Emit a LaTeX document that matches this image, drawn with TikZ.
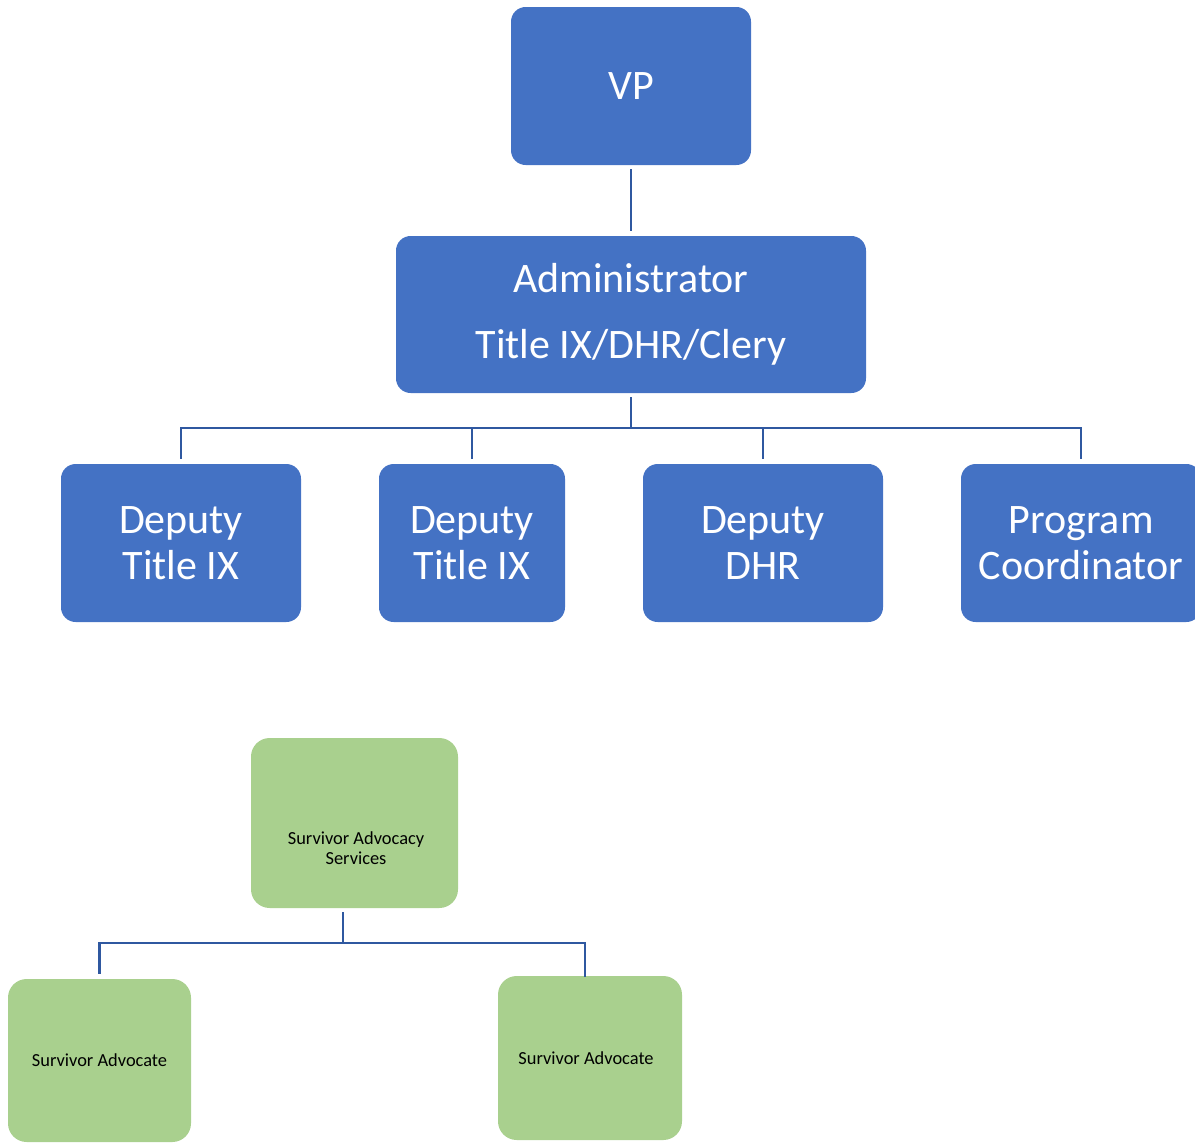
\documentclass[tikz,border=0pt]{standalone}
\usepackage{fontspec}
\setmainfont{Carlito}
\definecolor{boxblue}{RGB}{68,114,196}
\definecolor{boxgreen}{RGB}{169,208,142}
\definecolor{wireblue}{RGB}{47,88,160}
\tikzset{
  bluebox/.style={fill=boxblue, rounded corners=11pt, text=white, align=center,
    inner sep=0pt, font=\fontsize{31.5}{34.5}\selectfont},
  greenbox/.style={fill=boxgreen, rounded corners=14pt, text=black, align=center,
    inner sep=0pt, font=\fontsize{13.8}{15}\selectfont},
  wire/.style={draw=wireblue, line width=2.1pt, shorten >=3.5pt, shorten <=3pt}
}
\begin{document}
\begin{tikzpicture}[x=0.75pt, y=-0.75pt]
      \useasboundingbox (0,0) rectangle (1195,1142);
      \node[bluebox, minimum width=180pt, minimum height=118.5pt] (vp) at (631,86) {VP};
      \node[bluebox, minimum width=352.5pt, minimum height=117.75pt] (admin) at (631,314.5)
        {Administrator\\[15pt]Title IX/DHR/Clery};
      \node[bluebox, minimum width=180pt, minimum height=118.5pt] (dep1) at (181,543) {Deputy\\Title IX};
      \node[bluebox, minimum width=139.5pt, minimum height=118.5pt] (dep2) at (472,543) {Deputy\\Title IX};
      \node[bluebox, minimum width=180pt, minimum height=118.5pt] (dep3) at (763,543) {Deputy\\DHR};
      \node[bluebox, minimum width=180pt, minimum height=118.5pt] (prog) at (1081,543) {Program\\Coordinator};
      \coordinate (bus) at (631,428);
      \begin{scope}[wire]
        \draw (vp) -- (admin);
        \draw[shorten >=0pt] (admin) -- (bus);
        \draw[shorten <=0pt] (bus) -| (dep1);
        \draw[shorten <=0pt] (bus) -| (dep2);
        \draw[shorten <=0pt] (bus) -| (dep3);
        \draw[shorten <=0pt] (bus) -| (prog);
      \end{scope}
      \node[greenbox, minimum width=155.25pt, minimum height=127.5pt] (sas) at (354.5,823) {};
      \node[greenbox, fill=none] (sastext) at (356,848) {Survivor Advocacy\\Services};
      \node[greenbox, minimum width=137.25pt, minimum height=122.25pt] (adv1) at (99.5,1060.5) {Survivor Advocate};
      \node[greenbox, minimum width=138pt, minimum height=123pt] (adv2) at (590,1058) {};
      \node[greenbox, fill=none] (adv2text) at (586,1058) {Survivor Advocate};
      \coordinate (split) at (343,943);
      \begin{scope}[wire]
        \draw[shorten >=0pt] (sas.south -| split) -- (split);
        \draw[shorten <=0pt] (split) -| (adv1);
        \draw[shorten <=0pt, shorten >=0pt] (split) -| (585,977);
      \end{scope}
    \end{tikzpicture}
\end{document}
